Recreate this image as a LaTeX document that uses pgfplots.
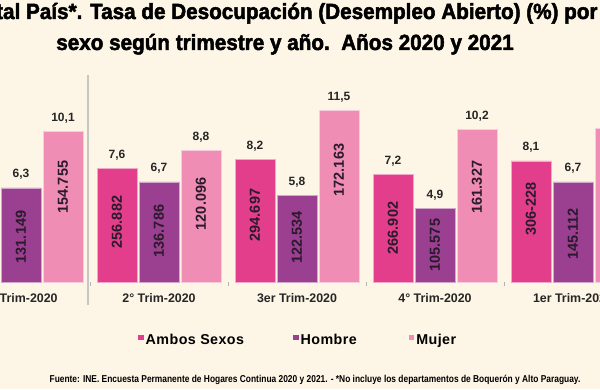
\documentclass[border=0pt]{standalone}
\usepackage{pgfplots}
\pgfplotsset{compat=1.18}
\usepackage{pgfplotstable}
\usepackage{fontspec}
\setmainfont{Liberation Sans}
\newfontfamily\titlefont{Liberation Sans}[FakeStretch=0.94, FakeBold=2.2]
\newfontfamily\notefont{Liberation Sans}[FakeStretch=0.84]
\newfontfamily\legfont{Liberation Sans}[LetterSpace=3]
\definecolor{bg}{HTML}{FDF5E6}
\definecolor{ambos}{HTML}{E23E8B}
\definecolor{hombre}{HTML}{9B3F91}
\definecolor{mujer}{HTML}{F08DB5}
\definecolor{lbl}{HTML}{2A1A2C}

% x = bar centre (px), v = rate (%), n = persons, ly = height of the inner label
\pgfplotstableread{
x v n ly
117 7.6 256.882 4.01
255 8.2 294.697 4.48
393 7.2 266.902 3.61
531 8.1 306-228 4.88
}\ambos
\pgfplotstableread{
x v n ly
21 6.3 131.149 3.01
159 6.7 136.786 3.41
297 5.8 122.534 3.00
435 4.9 105.575 2.47
573 6.7 145.112 3.21
}\hombre
\pgfplotstableread{
x v n ly
63 10.1 154.755 6.35
201 8.8 120.096 5.22
339 11.5 172.163 7.49
477 10.2 161.327 6.35
615 10.3 -- 6.40
}\mujer

\pgfplotsset{
  barplot/.style={forget plot, ybar, bar width=40, bar shift=0pt, fill=#1, draw=white!55!#1, line width=0.6pt,
    nodes near coords, point meta=y,
    every node near coord/.append style={font=\bfseries\fontsize{12}{14}\selectfont, text=black!85, anchor=base, yshift=10pt}},
  lblplot/.style={forget plot, only marks, mark=*, mark size=0pt, mark options={draw=none, fill=none},
    restrict x to domain=0:600,
    point meta=explicit symbolic, nodes near coords,
    every node near coord/.append style={rotate=90, anchor=center, font=\bfseries\fontsize{14.5}{16}\selectfont, text=lbl}},
  sq/.style={legend image code/.code={\path[fill=#1, draw=none] (0pt,0pt) rectangle (5.5pt,5.5pt);}},
}

\begin{document}
\begin{tikzpicture}
\useasboundingbox (0,0) rectangle (600pt,389pt);
\clip (0,0) rectangle (600pt,389pt);
\fill[bg] (0,0) rectangle (600pt,389pt);
\draw[gray!45, line width=2pt] (88pt,84pt) -- (88pt,314pt);
\node[anchor=base, inner sep=0pt, font=\titlefont\bfseries\fontsize{22}{26}\selectfont] at (285pt,370pt)
  {Total País*. Tasa de Desocupación (Desempleo Abierto) (\%) por};
\node[anchor=base, inner sep=0pt, font=\titlefont\bfseries\fontsize{22}{26}\selectfont] at (285pt,339pt)
  {sexo según trimestre y año.\ \ Años 2020 y 2021};
\begin{axis}[
  at={(0pt,107pt)}, anchor=south west, scale only axis,
  width=600pt, height=179.4pt,
  xmin=0, xmax=600, ymin=0, ymax=12, clip=false,
  axis line style={draw=none}, ytick=\empty,
  xtick pos=left,
  xtick={21,159,297,435,573},
  xticklabels={1° Trim-2020, 2° Trim-2020, 3er Trim-2020, 4° Trim-2020, 1er Trim-2021},
  major tick length=0pt,
  xticklabel style={font=\bfseries\fontsize{12.4}{14}\selectfont, text=black!85, anchor=center, yshift=-16pt},
  extra x ticks={90,228,366,504}, extra x tick labels={},
  extra x tick style={tick align=outside, major tick length=4pt, tick style={gray!60, line width=0.8pt}},
  /pgf/number format/.cd, use comma, fixed, fixed zerofill, precision=1, assume math mode=true, /pgfplots/.cd,
  legend style={at={(axis description cs:0.23,-0.3233)}, anchor=west, draw=none, fill=none,
    inner sep=0pt, font=\legfont\bfseries\fontsize{14.3}{16}\selectfont,
    /tikz/column 2/.style={column sep=47pt},
    /tikz/column 4/.style={column sep=50pt}},
  legend columns=3, legend cell align=left,
]
\addplot[barplot=ambos] table[x=x, y=v]{\ambos};
\addplot[barplot=hombre] table[x=x, y=v]{\hombre};
\addplot[barplot=mujer] table[x=x, y=v]{\mujer};
\addplot[lblplot] table[x=x, y=ly, meta=n]{\ambos};
\addplot[lblplot] table[x=x, y=ly, meta=n]{\hombre};
\addplot[lblplot] table[x=x, y=ly, meta=n]{\mujer};
\addlegendimage{sq=ambos}
\addlegendentry{Ambos Sexos}
\addlegendimage{sq=hombre}
\addlegendentry{Hombre}
\addlegendimage{sq=mujer}
\addlegendentry{Mujer}
\end{axis}
\node[anchor=base, inner sep=0pt, font=\notefont\bfseries\fontsize{10}{12}\selectfont] at (315pt,6.5pt)
  {Fuente: INE. Encuesta Permanente de Hogares Continua 2020 y 2021. - *No incluye los departamentos de Boquerón y Alto Paraguay.};
\end{tikzpicture}
\end{document}
